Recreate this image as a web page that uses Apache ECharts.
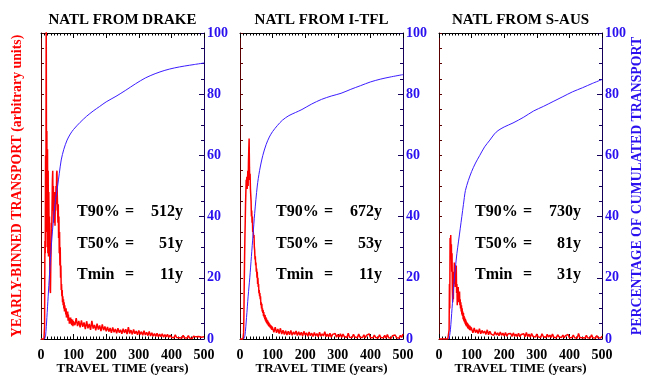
<!DOCTYPE html>
<html><head><meta charset="utf-8">
<script src="https://cdn.jsdelivr.net/npm/echarts@6/dist/echarts.min.js"></script>
<style>html,body{margin:0;padding:0;background:#fff}#c{width:645px;height:377px}</style>
</head><body><div id="c"></div>
<script>
// ---------- data ----------
const panelTitles = ['NATL FROM DRAKE', 'NATL FROM I-TFL', 'NATL FROM S-AUS'];
const xAxisTitle = 'TRAVEL TIME (years)';
const statT90 = ['512y', '672y', '730y'];
const statT50 = ['51y', '53y', '81y'];
const statTmin = ['11y', '11y', '31y'];

// yearly-binned transport, years 0..99 (one value per year)
const drakeHead = [0,0,0,0,0,0,0,0,0,0,0,4,32,28,60,35,110,45,68,30,
  62,28,55,27,48,30,40,22,16,15,24,30,38,36,44,52,55,42,50,38,
  46,40,48,37,45,42,50,44,54,55,47,42,38,44,33,40,28,35,24,30,
  20,24,16,18,14,16,12,14,11,13,10,12,9,11,9,10,8,10,7,9,
  8,7,9,6,8,6,7,5,7,6,5,7,5,6.5,4.5,6,4.8,6.4,4.2,5.8];
// years 100..500, every 4 years
const drakeTail = [6.2,4.5,6.8,4.2,5.9,3.8,6.1,4.0,5.4,3.2,
  5.8,3.5,4.9,3.0,5.9,3.4,4.6,2.8,5.0,3.1,
  4.4,2.6,4.8,2.9,4.1,2.5,3.9,2.4,3.6,2.0,
  3.8,2.2,3.3,1.9,3.5,2.1,3.0,1.7,3.4,2.0,
  3.2,1.6,3.9,1.8,2.9,1.5,3.1,1.7,2.6,1.4,
  2.8,1.5,2.4,1.2,2.7,1.3,2.2,1.1,2.5,1.0,
  2.0,0.9,1.8,0.8,1.9,0.7,1.6,0.8,1.7,0.6,
  1.4,0.7,1.5,0.5,1.3,0.6,1.2,0.4,1.4,0.5,
  1.1,0.4,1.0,0.3,1.2,0.4,0.9,0.3,1.1,0.3,
  0.8,0.2,0.9,0.3,0.7,0.2,0.8,0.3,0.6,0.2,0.7];

const itflHead = [0,0,0,0,0,0,0,0,0,0,0,2,8,18,26,33,38,44,48,52,
  50,53,49,52,55,50,58,62,65.5,56,52,54,49,47,45,40,42,38,40,35,
  36,36,33,34,30,29,26,27,24,25,22,23,20,22,18,20,17,18,15,16,
  14,15,13,14,11,12,10,11.5,9,10,8.5,9.5,7.5,8.8,7,8,6.5,7.8,6,7.2,
  5.5,6.8,5.2,6.3,4.8,6,4.5,5.6,4.2,5.3,4,5,3.8,4.6,3.5,4.5,3.2,4.2,3,3.9];
const itflTail = [3.6,2.2,3.9,2.0,3.3,1.8,3.5,1.6,2.9,1.5,
  2.7,1.3,2.5,1.4,2.8,1.2,2.3,1.5,2.6,1.1,
  2.4,1.2,2.2,1.0,2.5,1.3,2.0,0.9,2.3,1.1,
  1.9,0.8,2.1,1.0,1.8,0.7,2.2,0.9,1.7,1.0,
  2.4,0.8,1.6,0.7,1.9,0.6,1.5,0.9,1.8,0.6,
  1.4,0.7,1.7,0.5,1.6,0.8,1.3,0.5,1.9,0.6,
  1.2,0.5,1.5,0.7,1.3,0.4,1.6,0.6,1.1,0.5,
  1.4,0.4,1.2,0.6,1.7,0.5,1.0,0.4,1.3,0.5,
  1.1,0.3,1.4,0.5,1.0,0.4,1.2,0.3,1.5,0.4,
  0.9,0.3,1.1,0.5,1.3,0.4,0.8,0.3,1.2,0.5,1.6];

const sausHead = [0,0,0,0,0,0,0,0,0,0,0,0,0,0,0,0,0,0,0,0,
  0,0,0,0,0,0,0,0,0,0,0,3,18,10,33,28,34,26,31,22,
  28,16,12,19,13,22,18,25,20,24,17,23,19,24,15,18,11,16,13,17,
  12,15,13,15.5,11,13,10,12,9,11,8,10,7.5,9,6.5,8.5,6,7.5,5.5,7,
  5,6.5,4.5,6,4.2,5.5,4,5.2,3.5,5,3.4,4.6,3.2,4.4,2.9,4.3,3,4,2.8,3.8];
const sausTail = [3.2,2.0,3.6,2.1,3.0,1.8,3.4,1.7,2.8,1.9,
  2.6,1.5,3.0,1.4,2.5,1.6,2.2,1.2,2.4,1.3,
  2.0,1.1,2.3,1.2,1.9,1.0,2.1,0.9,1.7,1.1,
  1.8,0.8,2.0,0.9,1.6,0.8,1.9,0.7,1.5,0.9,
  1.7,0.7,2.1,0.8,1.6,0.6,1.8,0.9,1.4,0.6,
  1.6,0.7,1.3,0.5,1.7,0.8,1.2,0.5,1.5,0.6,
  1.3,0.5,1.6,0.6,1.2,0.4,1.4,0.7,1.1,0.5,
  1.3,0.4,1.1,0.6,1.5,0.4,1.0,0.5,1.3,0.4,
  1.0,0.3,1.8,0.5,1.1,0.4,0.9,0.3,1.2,0.4,
  1.0,0.3,1.4,0.4,0.9,0.3,1.1,0.4,0.8,0.3,0.9];

// cumulated transport (%)
const drakeCumYears = [11,14,18,22,26,30,35,40,45,51,56,62,70,80,90,100,120,140,160,180,200,230,260,290,320,350,380,410,440,470,500];
const drakeCumPct   = [0,1,7,14,21,28,35,41,46,50,54,58.5,62,65,67,68.5,70.8,72.8,74.5,76,77.5,79.3,81.3,83.4,85.3,86.7,87.8,88.6,89.2,89.7,90.2];
const itflCumYears = [11,15,20,25,30,35,40,45,53,60,70,80,90,100,115,130,150,170,190,220,250,280,310,340,370,400,430,460,500];
const itflCumPct   = [0,1,7,14,20,27,34,41,50,55,60,63.5,66,67.8,69.8,71.5,73,74,75,76.8,78.3,79.4,80.3,81.6,82.8,84,84.9,85.6,86.4];
const sausCumYears = [31,35,40,45,50,55,60,65,70,75,81,90,100,112,125,140,156,170,181,200,227,260,290,320,350,380,410,440,470,500];
const sausCumPct   = [0,3,10,17,23,28,32,36,40,44,48.5,51.8,54.7,57.5,60,62.8,65,67,68.1,69.3,70.6,72.5,74.5,76,77.6,79.2,80.8,82.1,83.5,84.8];

// ---------- build ----------
function transport(head, tail) {
  const d = head.map((v, i) => [i, v]);
  tail.forEach((v, i) => d.push([100 + 4 * i, v]));
  return d;
}
function pairs(xs, ys) { return xs.map((x, i) => [x, ys[i]]); }

const heads = [drakeHead, itflHead, sausHead];
const tails = [drakeTail, itflTail, sausTail];
const cumX = [drakeCumYears, itflCumYears, sausCumYears];
const cumY = [drakeCumPct, itflCumPct, sausCumPct];

const SERIF = '"Liberation Serif", "DejaVu Serif", serif';
const RED = '#ff0000';
const BLUE = '#3a1cff';
const BLUE_TXT = '#2a10ee';
const gridLefts = [41, 240, 439];
const GW = 163, GT = 33, GH = 306;

const grids = [], xAxes = [], yAxes = [], series = [], graphics = [];
for (let i = 0; i < 3; i++) {
  grids.push({ left: gridLefts[i], top: GT, width: GW, height: GH, containLabel: false, outerBoundsMode: 'none' });
}
for (let i = 0; i < 3; i++) {
  xAxes.push({
    gridIndex: i, type: 'value', min: 0, max: 500, interval: 100, position: 'bottom',
    axisLine: { show: true, onZero: false, lineStyle: { color: '#000', width: 1 } },
    axisTick: { show: true, inside: true, length: 5, lineStyle: { color: '#000' } },
    minorTick: { show: true, splitNumber: 10, length: 2.5, lineStyle: { color: '#000' } },
    splitLine: { show: false }, minorSplitLine: { show: false },
    axisLabel: { show: true, color: '#000', fontFamily: SERIF, fontWeight: 'bold', fontSize: 14, margin: 9 }
  });
}
for (let i = 0; i < 3; i++) {
  xAxes.push({
    gridIndex: i, type: 'value', min: 0, max: 500, interval: 100, position: 'top',
    axisLine: { show: true, onZero: false, lineStyle: { color: '#000', width: 1 } },
    axisTick: { show: true, inside: true, length: 5, lineStyle: { color: '#000' } },
    minorTick: { show: true, splitNumber: 10, length: 2.5, lineStyle: { color: '#000' } },
    splitLine: { show: false }, axisLabel: { show: false }
  });
}
for (let i = 0; i < 3; i++) {
  yAxes.push({
    gridIndex: i, type: 'value', min: 0, max: 100, interval: 5, position: 'left',
    axisLine: { show: true, onZero: false, lineStyle: { color: '#5a0000', width: 1 } },
    axisTick: { show: true, inside: true, length: 3, lineStyle: { color: '#5a0000' } },
    splitLine: { show: false }, axisLabel: { show: false }
  });
}
for (let i = 0; i < 3; i++) {
  yAxes.push({
    gridIndex: i, type: 'value', min: 0, max: 100, interval: 20, position: 'right',
    axisLine: { show: true, onZero: false, lineStyle: { color: '#14005a', width: 1 } },
    axisTick: { show: true, inside: true, length: 5, lineStyle: { color: '#14005a' } },
    minorTick: { show: true, splitNumber: 4, length: 3, lineStyle: { color: '#14005a' } },
    splitLine: { show: false }, minorSplitLine: { show: false },
    axisLabel: { show: true, color: BLUE_TXT, fontFamily: SERIF, fontWeight: 'bold', fontSize: 14, margin: 3,
      showMinLabel: true, showMaxLabel: true }
  });
}
for (let i = 0; i < 3; i++) {
  series.push({
    type: 'line', xAxisIndex: i, yAxisIndex: i, data: transport(heads[i], tails[i]),
    showSymbol: false, symbol: 'none', clip: true, z: 2,
    lineStyle: { color: RED, width: 1.5 }
  });
  series.push({
    type: 'line', xAxisIndex: i, yAxisIndex: 3 + i, data: pairs(cumX[i], cumY[i]),
    showSymbol: false, symbol: 'none', clip: true, smooth: 0.3, z: 3,
    lineStyle: { color: BLUE, width: 1 }
  });
  // title
  graphics.push({ type: 'text', x: gridLefts[i] + GW / 2, y: 20,
    style: { text: panelTitles[i], textAlign: 'center', textVerticalAlign: 'middle',
      font: 'bold 15px ' + SERIF, fill: '#000' } });
  // x-axis title
  graphics.push({ type: 'text', x: gridLefts[i] + GW / 2, y: 369,
    style: { text: xAxisTitle, textAlign: 'center', textVerticalAlign: 'middle',
      font: 'bold 13px ' + SERIF, fill: '#000' } });
  const x0 = gridLefts[i] + 36;
  const rows = [['T90%', statT90[i], 212], ['T50%', statT50[i], 244], ['Tmin', statTmin[i], 275]];
  rows.forEach(r => {
    graphics.push({ type: 'text', x: x0, y: r[2], style: { text: r[0], textAlign: 'left', textVerticalAlign: 'middle', font: 'bold 16px ' + SERIF, fill: '#000' } });
    graphics.push({ type: 'text', x: x0 + 48, y: r[2], style: { text: '=', textAlign: 'left', textVerticalAlign: 'middle', font: 'bold 16px ' + SERIF, fill: '#000' } });
    graphics.push({ type: 'text', x: x0 + 106, y: r[2], style: { text: r[1], textAlign: 'right', textVerticalAlign: 'middle', font: 'bold 16px ' + SERIF, fill: '#000' } });
  });
}
graphics.push({ type: 'text', x: 17, y: 186, rotation: Math.PI / 2,
  style: { text: 'YEARLY-BINNED TRANSPORT (arbitrary units)', textAlign: 'center', textVerticalAlign: 'middle',
    font: 'bold 13.8px ' + SERIF, fill: RED } });
graphics.push({ type: 'text', x: 637, y: 186, rotation: Math.PI / 2,
  style: { text: 'PERCENTAGE OF CUMULATED TRANSPORT', textAlign: 'center', textVerticalAlign: 'middle',
    font: 'bold 13.8px ' + SERIF, fill: BLUE_TXT } });

const chart = echarts.init(document.getElementById('c'), null, { renderer: 'canvas' });
chart.setOption({
  animation: false,
  backgroundColor: '#fff',
  grid: grids, xAxis: xAxes, yAxis: yAxes, series: series,
  graphic: graphics
});
</script></body></html>
